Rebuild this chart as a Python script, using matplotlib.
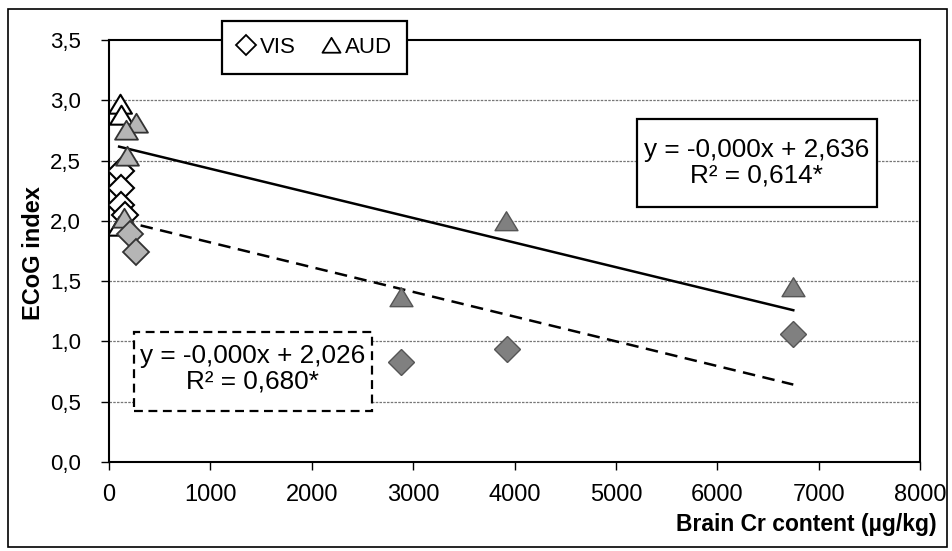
import matplotlib.pyplot as plt
import numpy as np
from matplotlib.lines import Line2D
from matplotlib.patches import Rectangle
from matplotlib.path import Path
from matplotlib.ticker import FuncFormatter

plt.rcParams['font.family'] = ['Liberation Sans', 'DejaVu Sans']

# VIS (diamonds)
vis_open_x = [120, 120, 120, 160]
vis_open_y = [2.41, 2.27, 2.13, 2.05]
vis_low_x = [210, 270]
vis_low_y = [1.89, 1.74]
vis_high_x = [2880, 3930, 6750]
vis_high_y = [0.83, 0.94, 1.06]

# AUD (triangles)
aud_open_x = [110, 120, 100]
aud_open_y = [2.97, 2.88, 1.96]
aud_low_x = [270, 170, 180, 150]
aud_low_y = [2.81, 2.75, 2.54, 2.02]
aud_high_x = [2880, 3920, 6750]
aud_high_y = [1.37, 2.00, 1.45]

# trend lines (slope, intercept)
aud_fit = (-0.000204, 2.636)
vis_fit = (-0.000205, 2.026)
aud_eq = "y = -0,000x + 2,636\nR² = 0,614*"
vis_eq = "y = -0,000x + 2,026\nR² = 0,680*"

fig = plt.figure(figsize=(9.52, 5.51), dpi=100)
ax = fig.add_axes([0.1145, 0.1615, 0.8519, 0.7659])

fig.patches.append(Rectangle((0.0084, 0.0073), 0.9863, 0.9764, transform=fig.transFigure,
                             fill=False, edgecolor='black', linewidth=1.2))

for yv in np.arange(0.5, 3.5, 0.5):
    ax.axhline(yv, color='#777777', linewidth=0.9, linestyle=(0, (2, 1)), zorder=1)

# trend lines
all_aud_x = aud_open_x + aud_low_x + aud_high_x
all_vis_x = vis_open_x + vis_low_x + vis_high_x
xa = np.array([min(all_aud_x), max(all_aud_x)])
xv = np.array([min(all_vis_x), max(all_vis_x)])
ax.plot(xa, aud_fit[0] * xa + aud_fit[1], color='black', linewidth=1.8, zorder=2)
ax.plot(xv, vis_fit[0] * xv + vis_fit[1], color='black', linewidth=1.8,
        linestyle=(0, (5, 3)), zorder=2)

tri = Path([(-1, -0.8), (1, -0.8), (0, 0.85), (-1, -0.8)],
           [Path.MOVETO, Path.LINETO, Path.LINETO, Path.CLOSEPOLY])
ms_d = 13.5
ms_t = 16.5
ax.plot(vis_open_x, vis_open_y, 'D', ms=ms_d, mfc='white', mec='black', mew=1.5, zorder=3)
ax.plot(aud_open_x, aud_open_y, marker=tri, ls='none', ms=ms_t, mfc='white', mec='black', mew=1.5, zorder=3)
ax.plot(aud_low_x, aud_low_y, marker=tri, ls='none', ms=ms_t, mfc='#b5b5b5', mec='#333333', mew=1.3, zorder=4)
ax.plot(vis_low_x, vis_low_y, 'D', ms=ms_d, mfc='#b5b5b5', mec='#333333', mew=1.3, zorder=4)
ax.plot(vis_high_x, vis_high_y, 'D', ms=ms_d, mfc='#808080', mec='#555555', mew=1.0, zorder=4)
ax.plot(aud_high_x, aud_high_y, marker=tri, ls='none', ms=ms_t, mfc='#808080', mec='#555555', mew=1.0, zorder=4)

ax.set_xlim(0, 8000)
ax.set_ylim(0, 3.5)
ax.set_xticks(np.arange(0, 8001, 1000))
ax.set_yticks(np.arange(0, 3.51, 0.5))
ax.yaxis.set_major_formatter(FuncFormatter(lambda v, p: f"{v:.1f}".replace('.', ',')))
ax.tick_params(direction='out', length=6, width=1, colors='black')
ax.tick_params(axis='x', pad=10, labelsize=17)
ax.tick_params(axis='y', pad=14, labelsize=16)
for s in ax.spines.values():
    s.set_linewidth(1.5)

ax.set_xlabel("Brain Cr content (µg/kg)", fontsize=16.5, fontweight='bold', ha='right', va='center')
ax.xaxis.set_label_coords(1.021, -0.149)
ax.set_ylabel("ECoG index", fontsize=17, fontweight='bold', va='center')
ax.yaxis.set_label_coords(-0.0925, 0.495)

# equation boxes
ax.add_patch(Rectangle((0.6514, 0.6043), 0.2954, 0.2085, transform=ax.transAxes,
                       facecolor='white', edgecolor='black', linewidth=1.6, zorder=5))
ax.text(0.7985, 0.7097, aud_eq, transform=ax.transAxes, ha='center', va='center',
        fontsize=18.8, linespacing=1.1, zorder=6)
ax.add_patch(Rectangle((0.0309, 0.1209), 0.2930, 0.1872, transform=ax.transAxes,
                       facecolor='white', edgecolor='black', linewidth=1.6,
                       linestyle=(0, (4, 2.5)), zorder=5))
ax.text(0.1768, 0.2216, vis_eq, transform=ax.transAxes, ha='center', va='center',
        fontsize=18.8, linespacing=1.1, zorder=6)

handles = [Line2D([], [], marker='D', ls='none', ms=10, mfc='white', mec='black', mew=1.3),
           Line2D([], [], marker=tri, ls='none', ms=13, mfc='white', mec='black', mew=1.3)]
leg = fig.legend(handles, ['VIS', 'AUD'], ncol=2, loc='center', bbox_to_anchor=(0.3304, 0.9138),
                 fontsize=16, frameon=True, fancybox=False, edgecolor='black', framealpha=1,
                 handlelength=0.8, handletextpad=0.2, columnspacing=1.2, borderpad=0.7)
leg.get_frame().set_linewidth(1.6)

fig.savefig("out.png", dpi=100)
